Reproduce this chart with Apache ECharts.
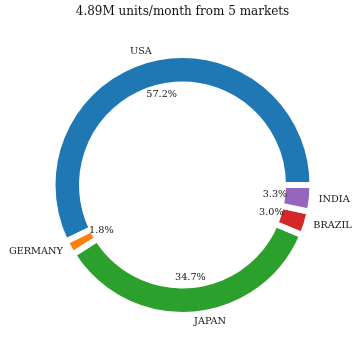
<!DOCTYPE html>
<html>
<head>
<meta charset="utf-8">
<script src="https://cdn.jsdelivr.net/npm/echarts@6/dist/echarts.min.js"></script>
<style>
html,body{margin:0;padding:0;background:#fff;}
#chart{width:360px;height:356px;}
</style>
</head>
<body>
<div id="chart"></div>
<script>
// Data (thousand units / month)
var markets = ['USA', 'GERMANY', 'JAPAN', 'BRAZIL', 'INDIA'];
var units = [2797, 88, 1697, 147, 161];
var colors = ['#1f77b4', '#ff7f0e', '#2ca02c', '#d62728', '#9467bd'];
var titleText = '4.89M units/month from 5 markets';

var total = units.reduce(function (a, b) { return a + b; }, 0);
var FONT = 'DejaVu Serif';
var CENTER = [182.5, 185];

function mk(withColor) {
  return markets.map(function (m, i) {
    return {
      name: m,
      value: units[i],
      itemStyle: withColor ? { color: colors[i] } : { color: 'rgba(0,0,0,0)' }
    };
  });
}

var commonLabel = { fontFamily: FONT, fontSize: 9.7, color: '#111', textBorderWidth: 0, padding: [2, 0, 0, 0] };

var chart = echarts.init(document.getElementById('chart'), null, { renderer: 'canvas' });
chart.setOption({
  backgroundColor: '#fff',
  animation: false,
  title: {
    text: titleText,
    left: 182.5,
    textAlign: 'center',
    top: 6,
    padding: 0,
    textStyle: { fontFamily: FONT, fontSize: 12, fontWeight: 'normal', color: '#111' }
  },
  series: [
    {
      type: 'pie',
      center: CENTER,
      radius: [100.5, 130],
      startAngle: 0,
      clockwise: false,
      silent: true,
      avoidLabelOverlap: false,
      itemStyle: { borderColor: '#fff', borderWidth: 6 },
      label: { show: false },
      labelLine: { show: false },
      emphasis: { disabled: true },
      data: mk(true)
    },
    {
      type: 'pie',
      center: CENTER,
      radius: [79, 101],
      startAngle: 0,
      clockwise: false,
      silent: true,
      avoidLabelOverlap: false,
      itemStyle: { borderWidth: 0 },
      label: Object.assign({
        show: true,
        position: 'inside',
        formatter: function (p) { return (p.value / total * 100).toFixed(1) + '%'; }
      }, commonLabel),
      labelLine: { show: false },
      emphasis: { disabled: true },
      data: mk(false)
    },
    {
      type: 'pie',
      center: CENTER,
      radius: [0, 137],
      startAngle: 0,
      clockwise: false,
      silent: true,
      avoidLabelOverlap: false,
      itemStyle: { borderWidth: 0 },
      label: Object.assign({
        show: true,
        position: 'outside',
        distanceToLabelLine: 0,
        formatter: '{b}'
      }, commonLabel),
      labelLine: { show: false, length: 0, length2: 0 },
      emphasis: { disabled: true },
      data: mk(false)
    }
  ]
});
</script>
</body>
</html>
